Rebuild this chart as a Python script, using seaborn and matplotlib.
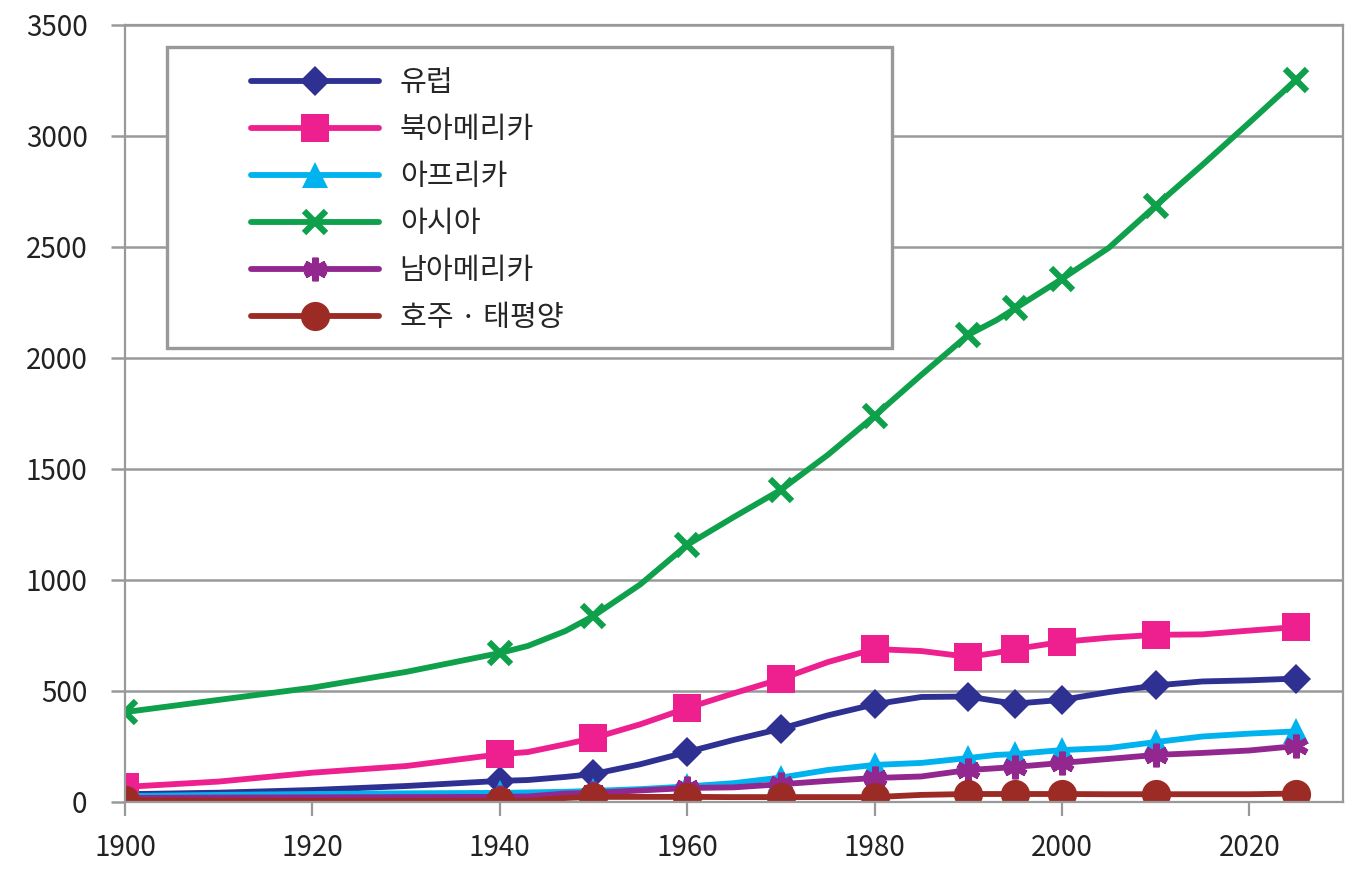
import matplotlib
matplotlib.use("Agg")
import matplotlib.pyplot as plt
import matplotlib.patches as mpatches
import seaborn as sns

# Population by continent (millions)
years = [1900, 1910, 1920, 1930, 1940, 1943, 1947, 1950, 1955, 1960, 1965, 1970,
         1975, 1980, 1985, 1990, 1993, 1995, 2000, 2005, 2010, 2015, 2020, 2025]
marker_years = [1900, 1940, 1950, 1960, 1970, 1980, 1990, 1995, 2000, 2010, 2025]

europe = [35, 42, 54, 72, 95, 99, 113, 126, 170, 225, 280, 330,
          390, 440, 473, 475, 455, 443, 460, 495, 525, 543, 548, 556]
north_america = [68, 92, 132, 162, 215, 225, 260, 288, 350, 423, 490, 554,
                 630, 689, 680, 654, 672, 689, 721, 740, 753, 755, 772, 788]
africa = [27, 32, 36, 39, 41, 43, 46, 50, 58, 70, 85, 110,
          144, 167, 176, 198, 212, 216, 234, 243, 270, 295, 308, 318]
asia = [405, 460, 515, 586, 671, 703, 770, 838, 980, 1158, 1284, 1406,
        1563, 1739, 1924, 2104, 2170, 2223, 2356, 2496, 2685, 2870, 3060, 3253]
south_america = [18, 20, 21, 22, 23, 25, 38, 41, 52, 63, 66, 80,
                 95, 108, 115, 144, 152, 158, 176, 194, 212, 221, 232, 252]
oceania = [8, 6, 5, 5, 5, 5, 18, 23, 23, 23, 22, 22,
           22, 22, 32, 36, 36, 36, 36, 35, 35, 35, 35, 38]

labels = ["유럽", "북아메리카", "아프리카", "아시아", "남아메리카", "호주 · 태평양"]
series = [europe, north_america, africa, asia, south_america, oceania]
colors = ["#2E3192", "#EE1F8F", "#00B2EE", "#0FA04B", "#92278F", "#9B2B24"]
markers = ["D", "s", "^", "x", (6, 2, 0), "o"]
sizes = [15.5, 20, 19, 16, 17, 21]

sns.set_theme(style="white")
plt.rcParams["font.family"] = ["Noto Sans CJK KR", "DejaVu Sans"]

fig = plt.figure(figsize=(13.68, 8.92), dpi=100)
ax = fig.add_axes([0.0914, 0.1009, 0.8903, 0.8711])

mark_idx = [years.index(y) for y in marker_years]
for vals, lab, col, mk, ms in zip(series, labels, colors, markers, sizes):
    sns.lineplot(x=years, y=vals, ax=ax, color=col, label=lab,
                 marker=mk, markersize=ms, markevery=mark_idx,
                 markeredgewidth=4.5 if mk in ("x", (6, 2, 0)) else 0,
                 markeredgecolor=col, markerfacecolor=col)
for line in ax.lines:
    line.set_linewidth(4.2)

grey = "#999999"
ax.set_xlim(1900, 2030)
ax.set_ylim(0, 3500)
ax.set_xticks(range(1900, 2021, 20))
ax.set_yticks(range(0, 3501, 500))
ax.set_xlabel("")
ax.set_ylabel("")
ax.yaxis.grid(True, color=grey, linewidth=1.8)
ax.set_axisbelow(True)
for sp in ax.spines.values():
    sp.set_color(grey)
    sp.set_linewidth(1.6)
ax.tick_params(axis="x", length=10, width=1.6, color=grey, pad=12,
               labelsize=20, labelcolor="#222222")
ax.tick_params(axis="y", length=10, width=1.8, color=grey, pad=17,
               labelsize=20, labelcolor="#222222")
ax.tick_params(bottom=True, left=True)

# legend box
box = mpatches.Rectangle((0.0345, 0.584), 0.5955, 0.3875, transform=ax.transAxes,
                         facecolor="white", edgecolor=grey, linewidth=2.4, zorder=4)
ax.add_patch(box)
leg = ax.legend(loc="upper left", bbox_to_anchor=(0.1034, 0.944), frameon=False,
                fontsize=21, handlelength=4.4, handletextpad=0.7, labelspacing=0.58,
                borderpad=0, borderaxespad=0)
for h in leg.legend_handles:
    h.set_linewidth(4.2)
leg.set_zorder(5)

fig.savefig("out.png", dpi=100)
